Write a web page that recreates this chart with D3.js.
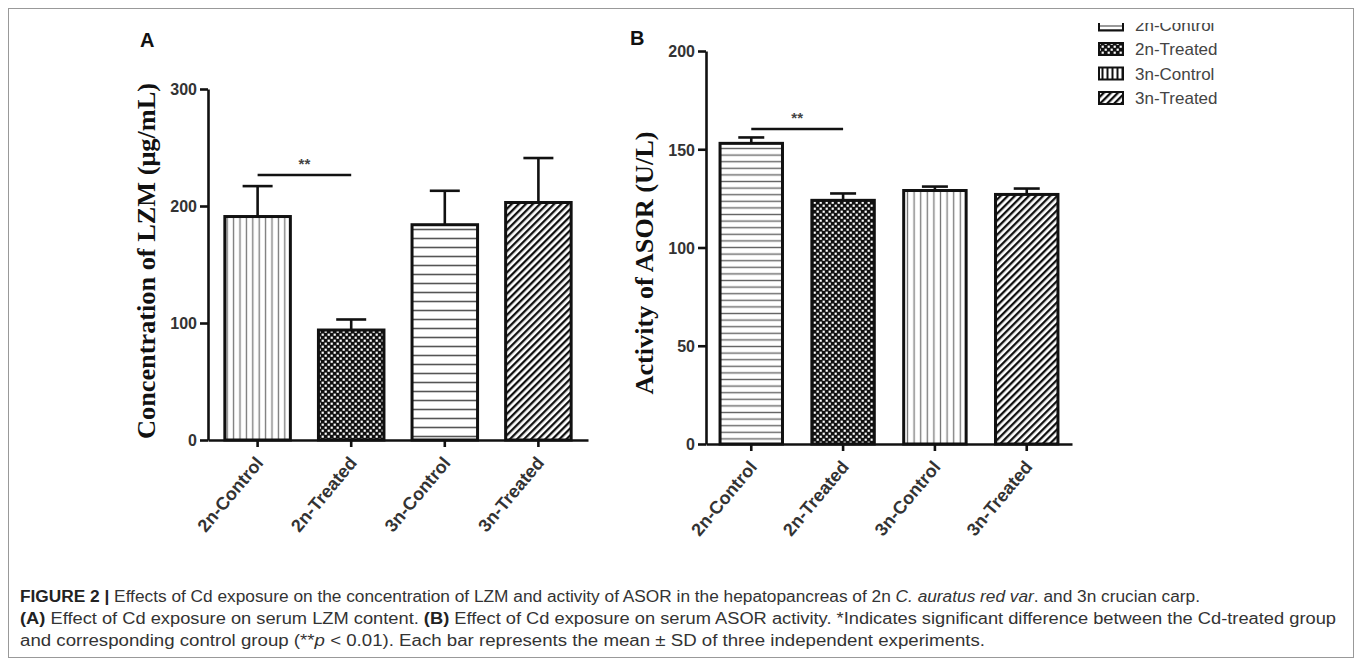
<!DOCTYPE html>
<html>
<head>
<meta charset="utf-8">
<script src="https://cdn.jsdelivr.net/npm/d3@7"></script>
<style>
  body { margin: 0; background: #fff; }
  svg { display: block; }
  .tick text { font-family: "Liberation Sans", Arial, sans-serif; font-weight: bold; fill: #333; }
</style>
</head>
<body>
<div id="chart"></div>
<script>
// data
const categories = ['2n-Control', '2n-Treated', '3n-Control', '3n-Treated'];
const lzmMean = [191, 94, 184, 203];
const lzmSD = [26, 9, 29, 38];
const asorMean = [153, 124, 129, 127];
const asorSD = [3, 3.5, 2, 3];
const lzmTicks = [0, 100, 200, 300];
const asorTicks = [0, 50, 100, 150, 200];

const width = 1358, height = 662;
const svg = d3.select('#chart').append('svg')
  .attr('width', width).attr('height', height);

// fill patterns
const defs = svg.append('defs');
function linePattern(id, dir, gap, color, sw) {
  const p = defs.append('pattern').attr('id', id)
    .attr('patternUnits', 'userSpaceOnUse')
    .attr('width', gap).attr('height', gap);
  p.append('rect').attr('width', gap).attr('height', gap).attr('fill', '#fff');
  if (dir === 'v') {
    p.append('line').attr('x1', gap / 2).attr('x2', gap / 2).attr('y1', 0).attr('y2', gap)
      .attr('stroke', color).attr('stroke-width', sw);
  } else {
    p.append('line').attr('y1', gap / 2).attr('y2', gap / 2).attr('x1', 0).attr('x2', gap)
      .attr('stroke', color).attr('stroke-width', sw);
  }
}
linePattern('vertA', 'v', 6.4, '#777', 1.3);
linePattern('horA', 'h', 9, '#555', 1.6);
linePattern('horB', 'h', 6.6, '#666', 1.4);
linePattern('vertB', 'v', 6.6, '#777', 1.3);
linePattern('horL', 'h', 4, '#555', 1.2);
linePattern('vertL', 'v', 5, '#111', 2);

const chk = defs.append('pattern').attr('id', 'check')
  .attr('patternUnits', 'userSpaceOnUse').attr('width', 6).attr('height', 6);
chk.append('rect').attr('width', 6).attr('height', 6).attr('fill', '#111');
chk.append('rect').attr('x', 0.6).attr('y', 0.6).attr('width', 2.2).attr('height', 2.2).attr('fill', '#fff');
chk.append('rect').attr('x', 3.6).attr('y', 3.6).attr('width', 2.2).attr('height', 2.2).attr('fill', '#fff');

const diag = defs.append('pattern').attr('id', 'diag')
  .attr('patternUnits', 'userSpaceOnUse').attr('width', 5).attr('height', 5)
  .attr('patternTransform', 'rotate(45)');
diag.append('rect').attr('width', 5).attr('height', 5).attr('fill', '#fff');
diag.append('rect').attr('width', 2.3).attr('height', 5).attr('fill', '#111');

defs.append('clipPath').attr('id', 'legclip')
  .append('rect').attr('x', 1080).attr('y', 23).attr('width', 260).attr('height', 120);

// frame
svg.append('rect').attr('x', 8.5).attr('y', 8.5).attr('width', 1345).attr('height', 649)
  .attr('fill', 'none').attr('stroke', '#999').attr('stroke-width', 1);

function panel(opt) {
  const g = svg.append('g');
  const x = d3.scaleBand().domain(categories)
    .range(opt.xRange).paddingInner(opt.pi).paddingOuter(opt.po);
  const y = d3.scaleLinear().domain(opt.yDomain).range(opt.yRange);
  const x0 = opt.xRange[0], base = opt.yRange[0];

  // bars
  g.selectAll('rect.bar').data(opt.mean).join('rect')
    .attr('class', 'bar')
    .attr('x', (d, i) => x(categories[i]))
    .attr('y', d => y(d))
    .attr('width', x.bandwidth())
    .attr('height', d => base - y(d))
    .attr('fill', (d, i) => `url(#${opt.fills[i]})`)
    .attr('stroke', '#111').attr('stroke-width', 3);

  // error bars
  const cap = opt.cap;
  opt.mean.forEach((m, i) => {
    const cx = x(categories[i]) + x.bandwidth() / 2;
    const top = y(m + opt.sd[i]);
    g.append('line').attr('x1', cx).attr('x2', cx).attr('y1', y(m)).attr('y2', top)
      .attr('stroke', '#111').attr('stroke-width', 2.6);
    g.append('line').attr('x1', cx - cap).attr('x2', cx + cap).attr('y1', top).attr('y2', top)
      .attr('stroke', '#111').attr('stroke-width', 2.6);
  });

  // axes
  const ya = g.append('g').attr('transform', `translate(${x0},0)`)
    .call(d3.axisLeft(y).tickValues(opt.ticks).tickSize(8).tickSizeOuter(0).tickPadding(3));
  ya.selectAll('path, line').attr('stroke', '#111').attr('stroke-width', 2.6);
  ya.selectAll('text').attr('font-size', 16).attr('dy', '0.36em');

  const xa = g.append('g').attr('transform', `translate(0,${base})`)
    .call(d3.axisBottom(x).tickSize(7).tickSizeOuter(0));
  xa.selectAll('path, line').attr('stroke', '#111').attr('stroke-width', 2.6);
  xa.selectAll('text')
    .attr('font-size', 18)
    .attr('text-anchor', 'end')
    .attr('dy', 0)
    .attr('transform', 'translate(-1,17) rotate(-50)');

  // significance
  const sx1 = x(categories[0]) + x.bandwidth() / 2;
  const sx2 = x(categories[1]) + x.bandwidth() / 2;
  const sy = y(opt.sig);
  g.append('line').attr('x1', sx1).attr('x2', sx2).attr('y1', sy).attr('y2', sy)
    .attr('stroke', '#111').attr('stroke-width', 2.6);
  g.append('text').attr('x', (sx1 + sx2) / 2).attr('y', sy - 6)
    .attr('text-anchor', 'middle').attr('font-size', 15).attr('font-weight', 'bold')
    .attr('font-family', 'Liberation Sans, Arial, sans-serif').attr('fill', '#444')
    .text('**');

  // y title
  g.append('text')
    .attr('transform', `translate(${opt.titleX},${opt.titleY}) rotate(-90)`)
    .attr('text-anchor', 'middle')
    .attr('font-family', 'Liberation Serif, Times New Roman, serif')
    .attr('font-weight', 'bold').attr('font-size', 26).attr('fill', '#111')
    .attr('textLength', opt.titleLen).attr('lengthAdjust', 'spacingAndGlyphs')
    .text(opt.title);

  // panel letter
  g.append('text').attr('x', opt.letter[0]).attr('y', opt.letter[1])
    .attr('font-family', 'Liberation Sans, Arial, sans-serif')
    .attr('font-weight', 'bold').attr('font-size', 20).attr('fill', '#111')
    .text(opt.letter[2]);
}

panel({
  mean: lzmMean, sd: lzmSD, ticks: lzmTicks,
  xRange: [208, 588], pi: 0.3, po: 0.18,
  yDomain: [0, 300], yRange: [440, 89],
  fills: ['vertA', 'check', 'horA', 'diag'],
  cap: 15, sig: 226.5,
  title: 'Concentration of LZM (μg/mL)', titleX: 155, titleY: 261, titleLen: 356,
  letter: [140, 47, 'A']
});

panel({
  mean: asorMean, sd: asorSD, ticks: asorTicks,
  xRange: [706, 1072], pi: 0.32, po: 0.153,
  yDomain: [0, 200], yRange: [444, 51],
  fills: ['horB', 'check', 'vertB', 'diag'],
  cap: 13, sig: 160.3,
  title: 'Activity of ASOR (U/L)', titleX: 653, titleY: 263, titleLen: 263,
  letter: [630, 45, 'B']
});

// legend
const legFills = ['horL', 'check', 'vertL', 'diag'];
const leg = svg.append('g').attr('clip-path', 'url(#legclip)');
categories.forEach((c, i) => {
  const cy = 24.5 + i * 24.5;
  leg.append('rect').attr('x', 1099).attr('y', cy - 6).attr('width', 24).attr('height', 12)
    .attr('fill', `url(#${legFills[i]})`).attr('stroke', '#111').attr('stroke-width', 2);
  leg.append('text').attr('x', 1135).attr('y', cy).attr('dy', '0.36em')
    .attr('font-family', 'Liberation Sans, Arial, sans-serif').attr('font-size', 17)
    .attr('fill', '#444').text(c);
});

// caption
const cap = svg.append('g')
  .attr('font-family', 'Liberation Sans, Arial, sans-serif')
  .attr('font-size', 16).attr('fill', '#333');
const lines = [
  { y: 602, len: 1180, parts: [['FIGURE 2 |', 'b'], [' Effects of Cd exposure on the concentration of LZM and activity of ASOR in the hepatopancreas of 2n ', ''], ['C. auratus red var', 'i'], ['. and 3n crucian carp.', '']] },
  { y: 624, len: 1316, parts: [['(A)', 'b'], [' Effect of Cd exposure on serum LZM content. ', ''], ['(B)', 'b'], [' Effect of Cd exposure on serum ASOR activity. *Indicates significant difference between the Cd-treated group', '']] },
  { y: 646, len: 965, parts: [['and corresponding control group (**', ''], ['p', 'i'], [' < 0.01). Each bar represents the mean ± SD of three independent experiments.', '']] }
];
lines.forEach(l => {
  const t = cap.append('text').attr('x', 20).attr('y', l.y)
    .attr('textLength', l.len).attr('lengthAdjust', 'spacingAndGlyphs');
  l.parts.forEach(p => {
    const s = t.append('tspan').text(p[0]);
    if (p[1] === 'b') s.attr('font-weight', 'bold').attr('fill', '#222');
    if (p[1] === 'i') s.attr('font-style', 'italic');
  });
});
</script>
</body>
</html>
